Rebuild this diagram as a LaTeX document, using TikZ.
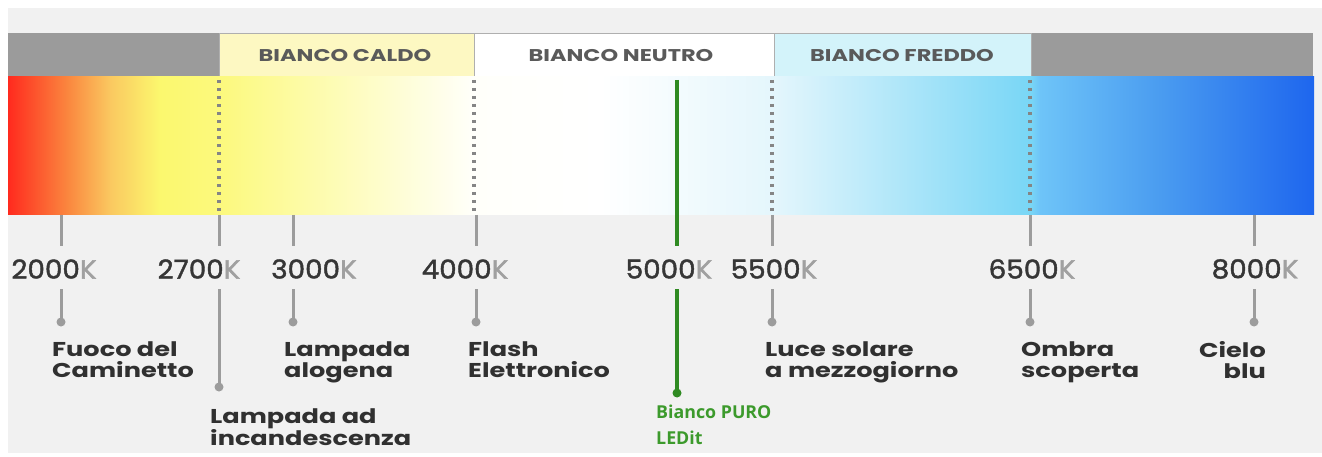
\documentclass[tikz,border=0pt]{standalone}
\usepackage{fontspec}
\setmainfont{Poppins}
\newfontfamily\descfont[FakeStretch=1.28]{Poppins}
\newfontfamily\numfont[FakeStretch=1.07,FakeBold=1.6]{Poppins}
\newfontfamily\hdrfont[FakeStretch=1.32]{Poppins}
\newfontfamily\greenfont{Open Sans}
\definecolor{panel}{HTML}{F1F1F1}
\definecolor{hdrgray}{HTML}{9B9B9B}
\definecolor{caldo}{HTML}{FDF8C2}
\definecolor{freddo}{HTML}{D3F3FA}
\definecolor{tickc}{HTML}{9C9C9C}
\definecolor{dotc}{HTML}{858585}
\definecolor{numc}{HTML}{363636}
\definecolor{kc}{HTML}{A0A0A0}
\definecolor{labc}{HTML}{303030}
\definecolor{hdrtxt}{HTML}{5A5A5A}
\definecolor{greenl}{HTML}{2F8A22}
\definecolor{greent}{HTML}{3C9A2C}
\definecolor{gred}{RGB}{255,42,30}
\definecolor{gorange}{RGB}{250,138,64}
\definecolor{gamber}{RGB}{250,200,96}
\definecolor{gyellow}{RGB}{251,248,110}
\definecolor{gyellow2}{RGB}{252,249,125}
\definecolor{gwhitey}{RGB}{255,255,250}
\definecolor{gpaleb}{RGB}{228,246,252}
\definecolor{gcyan}{RGB}{120,214,246}
\definecolor{gsky}{RGB}{110,196,248}
\definecolor{gmid}{RGB}{74,156,240}
\definecolor{gblue}{RGB}{30,102,238}
\pgfdeclarehorizontalshading{spectrum}{100bp}{%
  color(0bp)=(gred); color(25bp)=(gred); color(27.37bp)=(gorange);
  color(28.91bp)=(gamber); color(30.82bp)=(gyellow); color(33.08bp)=(gyellow2);
  color(42.84bp)=(gwhitey); color(47.66bp)=(white); color(54.33bp)=(gpaleb);
  color(64.17bp)=(gcyan); color(64.51bp)=(gsky); color(69.10bp)=(gmid);
  color(75bp)=(gblue); color(100bp)=(gblue)}
\begin{document}
\begin{tikzpicture}[x=1pt,y=-1pt,
  hdrbox/.style={draw=hdrgray!80,line width=0.8pt},
  hdrlabel/.style={font=\hdrfont\fontsize{17}{19}\selectfont\bfseries,text=hdrtxt,inner sep=0pt},
  numlabel/.style={font=\numfont\fontsize{26}{28}\selectfont,text=numc,inner sep=0pt},
  desclabel/.style={font=\descfont\fontsize{20}{21}\selectfont\bfseries,text=labc,inner sep=0pt,align=left,anchor=north west},
  greenlabel/.style={font=\greenfont\fontsize{17.8}{26}\selectfont\bfseries,text=greent,inner sep=0pt,align=left,anchor=north west},
  tickline/.style={draw=tickc,line width=3pt},
  dotline/.style={draw=dotc,line width=3.2pt,dash pattern=on 3pt off 5pt},
  enddot/.style={circle,fill=tickc,inner sep=0pt,minimum size=9pt},
  greenline/.style={draw=greenl,line width=4pt},
  greendot/.style={circle,fill=greenl,inner sep=0pt,minimum size=9pt}
]
\useasboundingbox (0,0) rectangle (1322,457);
\fill[white] (0,0) rectangle (1322,457);
\fill[panel] (8,8) rectangle (1322,453);
% header bar
\fill[hdrgray] (8,33) rectangle (219,77);
\fill[hdrgray] (1031,33) rectangle (1313,77);
\draw[hdrbox,fill=caldo] (219,33) rectangle (474,77);
\draw[hdrbox,fill=white] (474,33) rectangle (774,77);
\draw[hdrbox,fill=freddo] (774,33) rectangle (1031,77);
\node[hdrlabel] (hcaldo) at (345,56) {BIANCO CALDO};
\node[hdrlabel] (hneutro) at (621,56) {BIANCO NEUTRO};
\node[hdrlabel] (hfreddo) at (902,56) {BIANCO FREDDO};
% gradient bar
\shade[shading=spectrum] (8,77) rectangle (1314,215);
% dotted separators
\coordinate (d1t) at (219,80); \coordinate (d1b) at (219,215);
\coordinate (d2t) at (474,80); \coordinate (d2b) at (474,215);
\coordinate (d3t) at (772,80); \coordinate (d3b) at (772,215);
\coordinate (d4t) at (1030,80); \coordinate (d4b) at (1030,215);
\draw[dotline] (d1t) -- (d1b);
\draw[dotline] (d2t) -- (d2b);
\draw[dotline] (d3t) -- (d3b);
\draw[dotline] (d4t) -- (d4b);
% numbers
\node[numlabel] (n2000) at (54,269) {2000\textcolor{kc}{K}};
\node[numlabel] (n2700) at (199,269) {2700\textcolor{kc}{K}};
\node[numlabel] (n3000) at (314,269) {3000\textcolor{kc}{K}};
\node[numlabel] (n4000) at (465,269) {4000\textcolor{kc}{K}};
\node[numlabel] (n5000) at (669,269) {5000\textcolor{kc}{K}};
\node[numlabel] (n5500) at (774,269) {5500\textcolor{kc}{K}};
\node[numlabel] (n6500) at (1032,269) {6500\textcolor{kc}{K}};
\node[numlabel] (n8000) at (1255,269) {8000\textcolor{kc}{K}};
% upper ticks
\foreach \n/\x in {a/61,b/219,c/293,d/476,f/772,g/1030,h/1254}{
  \coordinate (ut\n) at (\x,215);
  \coordinate (ub\n) at (\x,246);
  \draw[tickline] (ut\n) -- (ub\n);
}
% lower ticks with dots
\foreach \n/\x/\y in {a/61/322,b/219/387,c/293/322,d/476/322,f/772/322,g/1030/322,h/1254/322}{
  \coordinate (lt\n) at (\x,289);
  \node[enddot] (ld\n) at (\x,\y) {};
  \draw[tickline] (lt\n) -- (ld\n.center);
}
% green line
\coordinate (gt) at (677,80);
\coordinate (gm) at (677,246);
\coordinate (gl) at (677,289);
\node[greendot] (gd) at (677,393) {};
\draw[greenline] (gt) -- (gm);
\draw[greenline] (gl) -- (gd.center);
% descriptions
\node[desclabel] (t1) at (52,341) {Fuoco del\\Caminetto};
\node[desclabel] (t2) at (210,408) {Lampada ad\\incandescenza};
\node[desclabel] (t3) at (284,341) {Lampada\\alogena};
\node[desclabel] (t4) at (468,341) {Flash\\Elettronico};
\node[greenlabel] (t5) at (656,405) {Bianco PURO\\LEDit};
\node[desclabel] (t6) at (765,341) {Luce solare\\a mezzogiorno};
\node[desclabel] (t7) at (1021,341) {Ombra\\scoperta};
\node[desclabel,align=right,anchor=north east] (t8) at (1266,341) {Cielo\\blu};
\end{tikzpicture}
\end{document}
